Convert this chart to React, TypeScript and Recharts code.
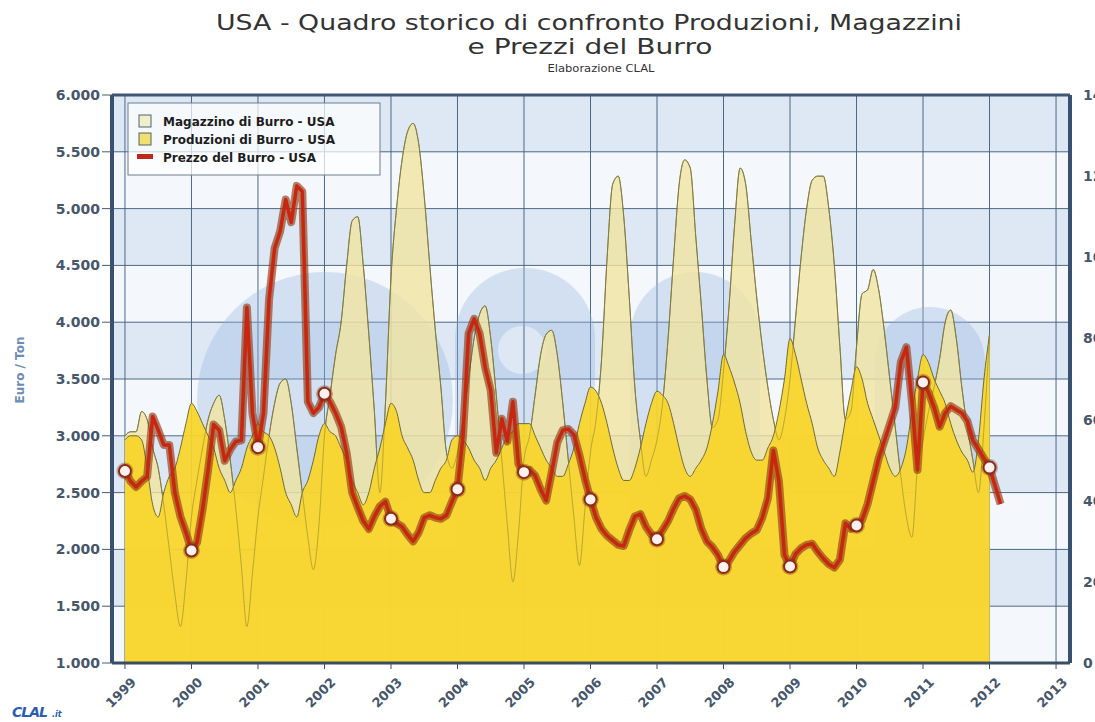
import { Area, CartesianGrid, ComposedChart, Customized, Line, ReferenceLine, XAxis, YAxis } from 'recharts';

// year ticks and axis ticks
const years = [1999, 2000, 2001, 2002, 2003, 2004, 2005, 2006, 2007, 2008, 2009, 2010, 2011, 2012, 2013];
const leftTicks = [1000, 1500, 2000, 2500, 3000, 3500, 4000, 4500, 5000, 5500, 6000];
const rightTicks = [0, 20, 40, 60, 80, 100, 120, 140];

// monthly, Jan 1999 .. Jan 2012 (migliaia di tonnellate)
const storage = [
  56, 57, 57, 62, 60, 53, 48, 39, 28, 17, 9, 20,
  36, 45, 53, 60, 64, 66, 60, 50, 38, 24, 9, 22,
  36, 46, 56, 64, 69, 70, 64, 53, 42, 31, 23, 34,
  56, 66, 76, 84, 98, 109, 110, 98, 81, 62, 42, 64,
  95, 112, 124, 131, 133, 128, 115, 98, 82, 68, 52, 48,
  52, 60, 70, 80, 86, 88, 80, 66, 50, 34, 20, 32,
  50, 56, 66, 76, 81, 82, 76, 64, 50, 36, 24, 38,
  52, 60, 75, 100, 118, 120, 110, 90, 68, 55, 46, 50,
  55, 64, 80, 100, 118, 124, 122, 105, 88, 70, 58, 60,
  72, 88, 108, 122, 118, 104, 90, 78, 68, 60, 55, 60,
  70, 85, 100, 112, 119, 120, 120, 112, 98, 78, 60, 62,
  78, 91, 92, 97, 92, 82, 70, 58, 46, 36, 31, 48,
  55, 62, 68, 75, 84, 87, 80, 68, 58, 50, 42, 58,
  81,
];

const production = [
  55, 56, 56, 55, 48, 39, 36, 42, 46, 48, 53, 59,
  64, 62, 59, 56, 53, 48, 45, 42, 45, 48, 53, 56,
  59, 57, 56, 53, 48, 42, 39, 36, 42, 45, 50, 56,
  59, 57, 56, 53, 50, 45, 42, 39, 42, 48, 53, 59,
  64, 62, 56, 53, 50, 45, 42, 42, 45, 48, 50, 55,
  56, 55, 53, 50, 48, 45, 48, 50, 53, 56, 57, 59,
  59, 59, 56, 53, 50, 48, 46, 46, 49, 53, 59, 64,
  68, 67, 64, 59, 53, 48, 45, 45, 48, 53, 59, 64,
  67, 66, 64, 59, 53, 48, 46, 48, 50, 53, 59, 67,
  76, 73, 69, 64, 57, 52, 50, 50, 53, 56, 62, 70,
  80, 76, 70, 64, 59, 53, 50, 48, 46, 52, 60, 67,
  73, 70, 64, 60, 56, 52, 48, 46, 48, 53, 62, 70,
  76, 74, 70, 67, 64, 59, 55, 52, 50, 47, 55, 70,
  81,
];

// Euro / Ton, monthly Jan 1999 .. Mar 2012
const price = [
  2690, 2600, 2550, 2600, 2640, 3170, 3050, 2920, 2920, 2500, 2290, 2150,
  1990, 2060, 2350, 2700, 3100, 3050, 2780, 2880, 2950, 2960, 4130, 3200,
  2900, 3200, 4200, 4650, 4800, 5080, 4880, 5200, 5150, 3300, 3200, 3250,
  3370, 3300, 3200, 3080, 2850, 2500, 2370, 2250, 2180, 2290, 2380, 2420,
  2270, 2230, 2200, 2130, 2070, 2150, 2280, 2300, 2280, 2270, 2300, 2420,
  2530, 3000, 3900, 4030, 3900, 3600, 3400, 2850, 3150, 2950, 3300, 2750,
  2680, 2700, 2650, 2530, 2430, 2680, 2940, 3050, 3060, 3010, 2830, 2620,
  2440, 2280, 2180, 2120, 2080, 2040, 2030, 2170, 2290, 2310, 2200, 2130,
  2090, 2170, 2250, 2360, 2450, 2470, 2440, 2350, 2180, 2070, 2020, 1950,
  1844, 1900, 1980, 2040, 2100, 2140, 2170, 2280, 2450, 2870, 2600, 1950,
  1850, 1960, 2010, 2040, 2050, 1980, 1920, 1870, 1840, 1910, 2230, 2180,
  2210, 2260, 2400, 2600, 2800, 2950, 3100, 3250, 3650, 3780, 3300, 2700,
  3470, 3380, 3250, 3080, 3200, 3260, 3230, 3200, 3130, 2960, 2880, 2800,
  2720, 2560, 2400,
];

const data = price.map((p, i) => ({
  t: 1999 + i / 12,
  month: i % 12,
  price: p,
  storage: storage[i],
  production: production[i],
}));

const axisColor = '#46566b';
const font = 'DejaVu Sans';

const fmtThousands = (v: number) =>
  v >= 1000 ? `${Math.floor(v / 1000)}.${String(v % 1000).padStart(3, '0')}` : String(v);

const YearTick = ({ x, y, payload }: any) => (
  <text
    x={x + 12}
    y={y + 12}
    transform={`rotate(-45 ${x + 12} ${y + 12})`}
    textAnchor="end"
    fill={axisColor}
    fontSize={13}
    fontWeight="bold"
    fontFamily={font}
  >
    {payload.value}
  </text>
);

const PriceDot = (props: any) => {
  const { cx, cy, payload } = props;
  if (payload == null || payload.month !== 0 || cx == null) return <g key={props.index} />;
  return (
    <g key={props.index}>
      <circle cx={cx} cy={cy} r={8.5} fill="#7a2a12" opacity={0.35} />
      <circle cx={cx} cy={cy} r={6} fill="#fdf1f0" stroke="#8e2b18" strokeWidth={2} />
    </g>
  );
};

// faint "clal" logo behind the series
const Watermark = () => (
  <g fill="#98b6e0" fillOpacity={0.36} fillRule="evenodd">
    <path d="M197,400 a128,128 0 1,0 256,0 a128,128 0 1,0 -256,0 Z" />
    <path d="M455,338 a70,70 0 0,1 140,0 L595,570 L455,570 Z M498,350 a24,24 0 1,0 48,0 a24,24 0 1,0 -48,0 Z" />
    <path d="M630,337 a65,65 0 0,1 130,0 L760,565 L630,565 Z" />
    <path d="M875,362 a55,55 0 0,1 110,0 L985,560 L875,560 Z" />
  </g>
);

const Overlay = () => (
  <svg
    width={1095}
    height={722}
    style={{ position: 'absolute', left: 0, top: 0, pointerEvents: 'none' }}
  >
    <g fontFamily={font} fill="#333">
      <text x={589} y={30} textAnchor="middle" fontSize={21} textLength={746} lengthAdjust="spacingAndGlyphs">
        USA - Quadro storico di confronto Produzioni, Magazzini
      </text>
      <text x={590} y={54} textAnchor="middle" fontSize={21} textLength={245} lengthAdjust="spacingAndGlyphs">
        e Prezzi del Burro
      </text>
      <text x={601} y={72} textAnchor="middle" fontSize={11} textLength={107} lengthAdjust="spacingAndGlyphs">
        Elaborazione CLAL
      </text>
    </g>
    <text
      x={24}
      y={370}
      transform="rotate(-90 24 370)"
      textAnchor="middle"
      fill="#6b8cb5"
      fontSize={12}
      fontWeight="bold"
      fontFamily={font}
    >
      Euro / Ton
    </text>
    <g>
      <rect x={128} y={103} width={252} height={72} fill="#ffffff" fillOpacity={0.72} stroke="#6d7d8d" strokeWidth={1} />
      <rect x={139} y={115} width={12} height={12} fill="#eef0cc" stroke="#55606a" strokeWidth={1} />
      <rect x={139} y={133} width={12} height={12} fill="#efe070" stroke="#55606a" strokeWidth={1} />
      <rect x={137} y={154} width={16} height={5} fill="#c0281a" />
      <g fontFamily={font} fontSize={12} fontWeight="bold" fill="#1d1d1d">
        <text x={163} y={126}>Magazzino di Burro - USA</text>
        <text x={163} y={144}>Produzioni di Burro - USA</text>
        <text x={163} y={162}>Prezzo del Burro - USA</text>
      </g>
    </g>
    <g fontFamily={font} fontWeight="bold" fontStyle="italic" fill="#2a5db0">
      <text x={12} y={717} fontSize={14} letterSpacing={-1}>CLAL</text>
      <text x={52} y={717} fontSize={8}>.it</text>
    </g>
  </svg>
);

export default function App() {
  return (
    <div
      style={{
        position: 'fixed',
        left: 0,
        top: 0,
        width: 1095,
        height: 722,
        overflow: 'hidden',
        background: '#ffffff',
      }}
    >
      <ComposedChart width={1140} height={722} data={data} margin={{ top: 95, right: 0, bottom: 0, left: 0 }}>
        <CartesianGrid
          yAxisId="left"
          stroke="#4d6884"
          strokeWidth={1}
          horizontalFill={['#dde8f4', '#f4f8fc']}
          fillOpacity={1}
        />
        <Customized component={Watermark} />
        <XAxis
          dataKey="t"
          type="number"
          domain={[1998.805, 2013.21]}
          allowDataOverflow
          ticks={years}
          interval={0}
          height={59}
          axisLine={{ stroke: '#3b4d60', strokeWidth: 3 }}
          tickLine={{ stroke: '#3b4d60' }}
          tick={<YearTick />}
        />
        <YAxis
          yAxisId="left"
          domain={[1000, 6000]}
          ticks={leftTicks}
          interval={0}
          width={112}
          tickSize={10}
          tickMargin={2}
          axisLine={{ stroke: '#3a5070', strokeWidth: 4 }}
          tickLine={{ stroke: '#4a5a6a' }}
          tickFormatter={fmtThousands}
          tick={{ fill: axisColor, fontSize: 14, fontWeight: 'bold', fontFamily: font }}
        />
        <YAxis
          yAxisId="right"
          orientation="right"
          domain={[0, 140]}
          ticks={rightTicks}
          interval={0}
          width={70}
          tickSize={0}
          tickMargin={13}
          axisLine={{ stroke: '#3a5070', strokeWidth: 4 }}
          tickLine={false}
          tick={{ fill: axisColor, fontSize: 14, fontWeight: 'bold', fontFamily: font }}
        />
        <Area
          yAxisId="right"
          dataKey="storage"
          type="monotone"
          fill="#f1e3a0"
          fillOpacity={0.8}
          stroke="#5f5f45"
          strokeWidth={1}
          dot={false}
          activeDot={false}
          isAnimationActive={false}
        />
        <Area
          yAxisId="right"
          dataKey="production"
          type="monotone"
          fill="#f8d52c"
          fillOpacity={0.94}
          stroke="#6e6a3a"
          strokeWidth={1}
          dot={false}
          activeDot={false}
          isAnimationActive={false}
        />
        <Line
          yAxisId="right"
          dataKey="storage"
          type="monotone"
          stroke="#9a8f30"
          strokeOpacity={0.6}
          strokeWidth={1}
          dot={false}
          activeDot={false}
          isAnimationActive={false}
        />
        <Line
          yAxisId="left"
          dataKey="price"
          type="linear"
          stroke="#8e3d17"
          strokeOpacity={0.65}
          strokeWidth={8}
          strokeLinejoin="round"
          dot={false}
          activeDot={false}
          isAnimationActive={false}
        />
        <Line
          yAxisId="left"
          dataKey="price"
          type="linear"
          stroke="#c9260f"
          strokeWidth={3.5}
          strokeLinejoin="round"
          dot={<PriceDot />}
          activeDot={false}
          isAnimationActive={false}
        />
        <ReferenceLine yAxisId="left" y={6000} stroke="#3d5675" strokeWidth={3} />
      </ComposedChart>
      <Overlay />
    </div>
  );
}
